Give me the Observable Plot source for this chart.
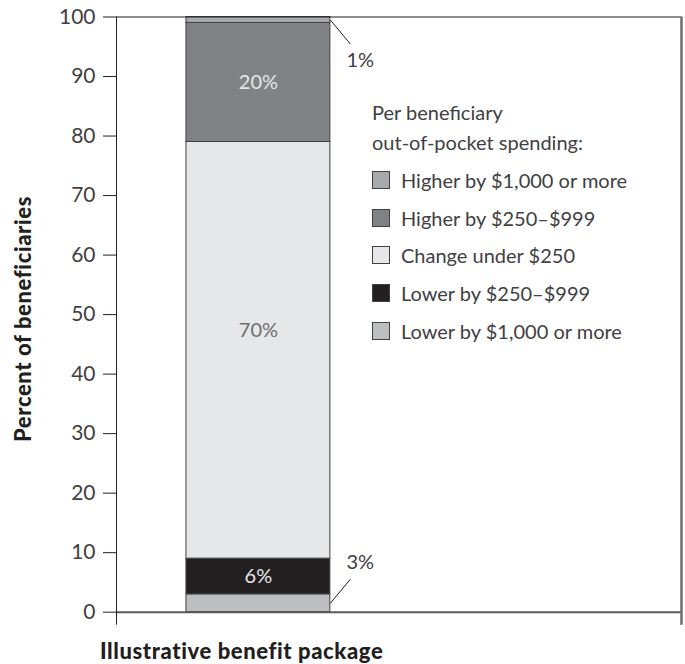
<!DOCTYPE html>
<html>
<head>
<meta charset="utf-8">
<script src="https://cdn.jsdelivr.net/npm/d3@7"></script>
<script src="https://cdn.jsdelivr.net/npm/@observablehq/plot@0.6"></script>
<style>
  html, body { margin: 0; padding: 0; background: #fff; }
  #wrap { position: relative; width: 685px; height: 664px; font-family: Lato, "Open Sans", sans-serif; color: #414042; }
  #ylab { position: absolute; left: 22px; top: 319px; transform: translate(-50%, -50%) rotate(-90deg); white-space: nowrap; font-weight: 900; font-size: 22px; letter-spacing: 0.6px; color: #231f20; }
  #xlab { position: absolute; left: 100px; top: 637px; white-space: nowrap; font-weight: 900; font-size: 22px; letter-spacing: 0.6px; color: #231f20; }
  #legend { position: absolute; left: 372px; top: 97px; font-size: 20px; }
  #legend .title { line-height: 30px; }
  #legend .item { display: flex; align-items: center; height: 37.75px; }
  #legend .sw { width: 16px; height: 16px; border: 1px solid #414042; margin-right: 11px; flex: none; }
</style>
</head>
<body>
<div id="wrap">
  <div id="chart"></div>
  <div id="ylab">Percent of beneficiaries</div>
  <div id="xlab">Illustrative benefit package</div>
  <div id="legend"></div>
</div>
<script>
// Data (bottom to top in the stack)
const categories = ["Lower by $1,000 or more", "Lower by $250–$999", "Change under $250", "Higher by $250–$999", "Higher by $1,000 or more"];
const values = [3, 6, 70, 20, 1];
const colors = ["#bcbec0", "#231f20", "#e6e7e8", "#808285", "#a7a9ac"];
const labelColors = ["#414042", "#e6e7e8", "#6d6e71", "#e6e7e8", "#414042"];
const insideLabel = [false, true, true, true, false];
const legendOrder = ["Higher by $1,000 or more", "Higher by $250–$999", "Change under $250", "Lower by $250–$999", "Lower by $1,000 or more"];
const yTicks = [0, 10, 20, 30, 40, 50, 60, 70, 80, 90, 100];
const barIndex = 0;
const xDomain = [-0.986, 2.94];

// Build stacked table
let acc = 0;
const rows = categories.map((c, i) => {
  const r = {cat: c, value: values[i], y1: acc, y2: acc + values[i], fill: colors[i], lc: labelColors[i], inside: insideLabel[i], label: values[i] + "%"};
  acc += values[i];
  return r;
});
const inside = rows.filter(d => d.inside && d.value <= 50);
const insideBig = rows.filter(d => d.inside && d.value > 50);
const outside = rows.filter(d => !d.inside);
const unit = 5.95; // px per percentage point
const pxToX = 1 / 144;
const leaders = outside.map(d => {
  const mid = (d.y1 + d.y2) / 2;
  const up = mid < 50 ? 1 : -1;
  return {...d, ly1: mid, ly2: mid + up * (24 / unit), lx1: barIndex + 0.5, lx2: barIndex + 0.5 + 20 * pxToX,
          ty: mid + up * (41 / unit), tx: barIndex + 0.5 + 30 * pxToX};
});

const plot = Plot.plot({
  width: 685,
  height: 664,
  marginTop: 16.5,
  marginBottom: 52.3,
  marginLeft: 116,
  marginRight: 4,
  style: {fontFamily: "Lato, 'Open Sans', sans-serif", fontSize: "20px", color: "#414042", background: "#fff"},
  x: {domain: xDomain, axis: null},
  y: {domain: [0, 100], axis: null},
  marks: [
    Plot.axisY({ticks: yTicks, tickSize: 13, tickPadding: 8, label: null, stroke: "#231f20", fontSize: 21, fill: "#414042"}),
    Plot.rectY(rows, {x1: barIndex - 0.5, x2: barIndex + 0.5, y1: "y1", y2: "y2", fill: "fill", stroke: "#414042", strokeWidth: 1}),
    Plot.text(inside, {x: barIndex, y: d => (d.y1 + d.y2) / 2, text: "label", fill: "lc", fontSize: 20}),
    Plot.text(insideBig, {x: barIndex, y: d => (d.y1 + d.y2) / 2, dy: -20, text: "label", fill: "lc", fontSize: 20}),
    Plot.link(leaders, {x1: "lx1", x2: "lx2", y1: "ly1", y2: "ly2", stroke: "#231f20", strokeWidth: 1}),
    Plot.text(leaders, {x: "tx", y: "ty", text: "label", fill: "#414042", fontSize: 20}),
    Plot.ruleY([100], {stroke: "#231f20", strokeWidth: 1}),
    Plot.ruleY([0], {stroke: "#58595b", strokeWidth: 2}),
    Plot.ruleX([xDomain[0]], {stroke: "#231f20", strokeWidth: 1, insetBottom: -13}),
    Plot.ruleX([xDomain[1]], {stroke: "#6d6e71", strokeWidth: 2.5, insetBottom: -13})
  ]
});
document.getElementById("chart").appendChild(plot);

// Legend
const lg = document.getElementById("legend");
lg.innerHTML = '<div class="title">Per beneficiary</div><div class="title" style="margin-bottom:4px">out-of-pocket spending:</div>' +
  legendOrder.map(c => {
    const i = categories.indexOf(c);
    return `<div class="item"><span class="sw" style="background:${colors[i]}"></span><span>${c}</span></div>`;
  }).join("");
</script>
</body>
</html>
